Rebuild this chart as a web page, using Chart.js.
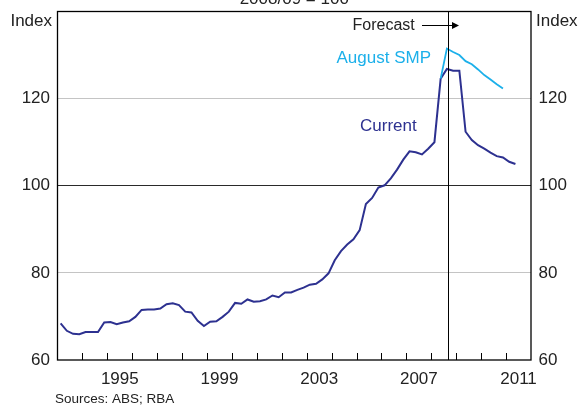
<!DOCTYPE html>
<html>
<head>
<meta charset="utf-8">
<script src="https://cdn.jsdelivr.net/npm/chart.js@4"></script>
<style>
  html, body { margin: 0; padding: 0; background: #fff; }
  canvas { display: block; }
</style>
</head>
<body>
<canvas id="chart" width="580" height="405"></canvas>
<script>
// quarterly index, 2008/09 = 100, first point is March quarter 1993
const startYear = 1993
const current = [
  68.4, 66.7, 66.0, 65.9, 66.4, 66.4, 66.4, 68.6, 68.7, 68.2,
  68.6, 68.9, 69.9, 71.5, 71.6, 71.6, 71.8, 72.8, 73.0, 72.6,
  71.1, 70.9, 69.0, 67.8, 68.8, 68.9, 69.9, 71.1, 73.1, 72.9,
  73.9, 73.4, 73.5, 73.9, 74.8, 74.4, 75.5, 75.5, 76.1, 76.6,
  77.3, 77.5, 78.5, 79.9, 82.9, 85.0, 86.5, 87.7, 89.8, 95.8,
  97.2, 99.6, 100.1, 101.7, 103.7, 106.0, 107.9, 107.7, 107.2, 108.5,
  110.0, 124.6, 126.8, 126.4, 126.4, 112.4, 110.5, 109.3, 108.5, 107.6,
  106.8, 106.5, 105.5, 105.0
]
// August SMP forecast starts at the June quarter 2008 (index 61)
const smpStart = 61
const augustSMP = [124.6, 131.5, 130.7, 130.0, 128.6, 127.9, 126.7, 125.4, 124.4, 123.3, 122.3]

const labelYears = [1995, 1999, 2003, 2007, 2011]
const yTicks = [60, 80, 100, 120, 140]
const forecastAt = 2008.65

const quarterX = (i) => startYear + (i + 0.5) / 4
const currentPts = current.map((v, i) => ({ x: quarterX(i), y: v }))
const smpPts = augustSMP.map((v, i) => ({ x: quarterX(smpStart + i), y: v }))

const FONT = "'Liberation Sans', Arial, Helvetica, sans-serif"
const NAVY = '#2d3190'
const LIGHT = '#1cb0ea'

const extras = {
  id: 'extras',
  afterDraw(chart) {
    const { ctx, chartArea: a, scales } = chart
    const xs = scales.x
    ctx.save()
    // year tick marks, inward
    ctx.strokeStyle = '#000'
    ctx.lineWidth = 1
    ctx.beginPath()
    for (let yr = startYear + 1; yr < 2012; yr++) {
      const px = Math.round(xs.getPixelForValue(yr)) + 0.5
      ctx.moveTo(px, a.bottom)
      ctx.lineTo(px, a.bottom - 7)
    }
    // forecast divider
    const fx = Math.round(xs.getPixelForValue(forecastAt)) + 0.5
    ctx.moveTo(fx, a.top)
    ctx.lineTo(fx, a.bottom)
    ctx.stroke()
    // frame
    ctx.lineWidth = 1.3
    ctx.strokeRect(a.left, a.top, a.right - a.left, a.bottom - a.top)

    // arrow
    ctx.lineWidth = 1
    ctx.beginPath()
    ctx.moveTo(422, 25.5)
    ctx.lineTo(453, 25.5)
    ctx.stroke()
    ctx.fillStyle = '#000'
    ctx.beginPath()
    ctx.moveTo(459, 25.5)
    ctx.lineTo(452, 22)
    ctx.lineTo(452, 29)
    ctx.closePath()
    ctx.fill()

    ctx.textBaseline = 'alphabetic'
    ctx.fillStyle = '#222'
    ctx.font = '17px ' + FONT
    ctx.textAlign = 'center'
    ctx.fillText('2008/09 = 100', (a.left + a.right) / 2, 4)
    ctx.textAlign = 'right'
    ctx.fillText('Index', 52, 25.5)
    ctx.textAlign = 'left'
    ctx.fillText('Index', 536, 25.5)

    ctx.font = '16px ' + FONT
    ctx.fillText('Forecast', 352.5, 30)

    ctx.font = '17px ' + FONT
    ctx.fillStyle = LIGHT
    ctx.fillText('August SMP', 336.5, 63)
    ctx.fillStyle = NAVY
    ctx.fillText('Current', 360, 131)

    ctx.fillStyle = '#222'
    ctx.font = '13.5px ' + FONT
    ctx.fillText('Sources: ABS; RBA', 55, 402.5)
    ctx.restore()
  }
}

const yAxis = (pos, width) => ({
  type: 'linear',
  position: pos,
  min: 60,
  max: 140,
  afterBuildTicks: (s) => { s.ticks = yTicks.map((v) => ({ value: v })) },
  afterFit: (s) => {
    s.width = width
    s.paddingTop = 0
    s.paddingBottom = 0
  },
  border: { display: false },
  grid: {
    drawTicks: false,
    drawOnChartArea: pos === 'left',
    lineWidth: 1,
    color: (c) => c.tick && c.tick.value === 100 ? '#2a2a2a'
      : (c.tick && (c.tick.value === 80 || c.tick.value === 120) ? '#c4c4c4' : 'rgba(0,0,0,0)')
  },
  ticks: {
    padding: 7.5,
    color: '#222',
    font: { family: FONT, size: 17 },
    callback: (v) => v === 140 ? '' : String(v)
  }
})

new Chart(document.getElementById('chart'), {
  type: 'line',
  data: {
    datasets: [
      {
        label: 'August SMP',
        data: smpPts,
        borderColor: LIGHT,
        borderWidth: 1.8,
        pointRadius: 0,
        tension: 0
      },
      {
        label: 'Current',
        data: currentPts,
        borderColor: NAVY,
        borderWidth: 2,
        pointRadius: 0,
        tension: 0
      }
    ]
  },
  options: {
    responsive: false,
    animation: false,
    devicePixelRatio: 1,
    layout: { padding: { top: 11.5, left: 0, right: 0, bottom: 0 } },
    plugins: { legend: { display: false }, tooltip: { enabled: false } },
    scales: {
      x: {
        type: 'linear',
        min: 1993,
        max: 2012,
        afterBuildTicks: (s) => { s.ticks = labelYears.map((y) => ({ value: y + 0.5 })) },
        afterFit: (s) => {
          s.height = 45
          s.paddingLeft = 0
          s.paddingRight = 0
        },
        border: { display: false },
        grid: { display: false, drawTicks: false },
        ticks: {
          autoSkip: false,
          maxRotation: 0,
          padding: 9,
          color: '#222',
          font: { family: FONT, size: 17 },
          callback: (v) => String(Math.floor(v))
        }
      },
      y: yAxis('left', 57.5),
      y2: yAxis('right', 49)
    }
  },
  plugins: [extras]
})
</script>
</body>
</html>
